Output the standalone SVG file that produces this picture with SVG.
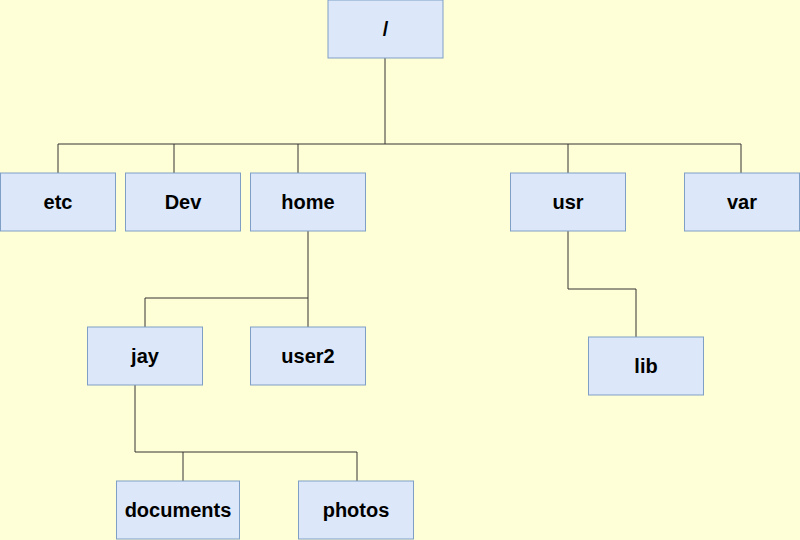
<svg xmlns="http://www.w3.org/2000/svg" width="800" height="540" viewBox="0 0 800 540">
<style>
.n rect{fill:#dce8fa;stroke:#7f9fc6;stroke-width:1}
.n text{font-family:"Liberation Sans",Arial,sans-serif;font-weight:bold;font-size:20px;text-anchor:middle;fill:#000}
#c path{fill:none;stroke:#333;stroke-width:1}
</style>
<rect width="800" height="540" fill="#ffffd7"/>
<g id="c">
<path d="M385,58V144M58,144H741M58,144V173M174,144V173M298,144V173M568,144V173M741,144V173"/>
<path d="M308,231V298H145V327M308,298V327"/>
<path d="M568,231V289H636V337"/>
<path d="M135,385V452H357V481M183,452V481"/>
</g>
<g id="root" class="n"><rect x="328" y="0" width="115" height="58"/><text x="385.5" y="36">/</text></g>
<g id="etc" class="n"><rect x="0.5" y="173" width="115" height="58"/><text x="58" y="209">etc</text></g>
<g id="dev" class="n"><rect x="125.5" y="173" width="115" height="58"/><text x="183" y="209">Dev</text></g>
<g id="home" class="n"><rect x="250.5" y="173" width="115" height="58"/><text x="308" y="209">home</text></g>
<g id="usr" class="n"><rect x="510.5" y="173" width="115" height="58"/><text x="568" y="209">usr</text></g>
<g id="var" class="n"><rect x="684.5" y="173" width="115" height="58"/><text x="742" y="209">var</text></g>
<g id="jay" class="n"><rect x="87.5" y="327" width="115" height="58"/><text x="145" y="363">jay</text></g>
<g id="user2" class="n"><rect x="250.5" y="327" width="115" height="58"/><text x="308" y="363">user2</text></g>
<g id="lib" class="n"><rect x="588.5" y="337" width="115" height="58"/><text x="646" y="373">lib</text></g>
<g id="documents" class="n"><rect x="116.5" y="481" width="123" height="58"/><text x="178" y="517">documents</text></g>
<g id="photos" class="n"><rect x="298.5" y="481" width="115" height="58"/><text x="356" y="517">photos</text></g>
</svg>
